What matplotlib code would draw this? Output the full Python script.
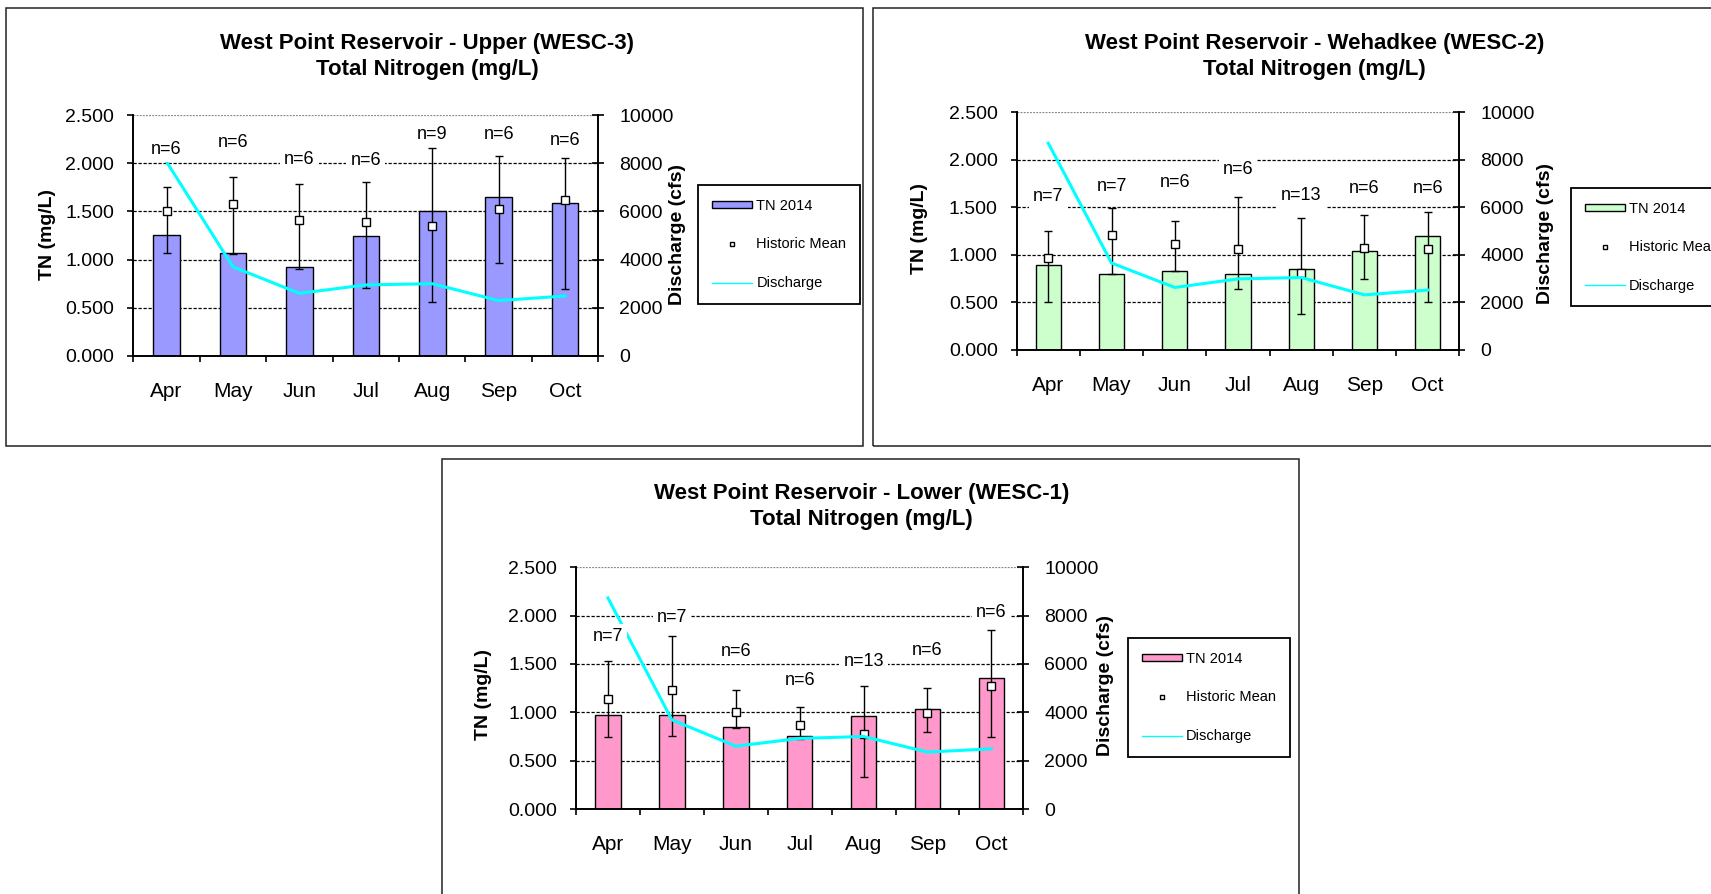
import numpy as np
import matplotlib
matplotlib.use("Agg")
import matplotlib.pyplot as plt
from matplotlib.patches import Rectangle, Patch
from matplotlib.lines import Line2D

plt.rcParams['font.family'] = ['Liberation Sans', 'DejaVu Sans']

# ---------------- data ----------------
months = ['Apr', 'May', 'Jun', 'Jul', 'Aug', 'Sep', 'Oct']

# Upper (WESC-3)
tn_upper = [1.26, 1.07, 0.92, 1.25, 1.50, 1.65, 1.59]
hist_upper = [1.50, 1.58, 1.41, 1.39, 1.35, 1.52, 1.62]
hi_upper = [1.75, 1.86, 1.78, 1.80, 2.16, 2.07, 2.05]
lo_upper = [1.07, 1.06, 0.90, 0.71, 0.56, 0.96, 0.70]
q_upper = [8060, 3700, 2600, 2950, 3000, 2300, 2490]
n_upper = [6, 6, 6, 6, 9, 6, 6]
nlevel_upper = [2.14, 2.21, 2.04, 2.03, 2.30, 2.30, 2.24]

# Wehadkee (WESC-2)
tn_wehad = [0.89, 0.80, 0.83, 0.80, 0.85, 1.04, 1.20]
hist_wehad = [0.97, 1.21, 1.11, 1.06, 0.81, 1.07, 1.06]
hi_wehad = [1.25, 1.49, 1.36, 1.61, 1.39, 1.42, 1.45]
lo_wehad = [0.51, 0.80, 0.83, 0.64, 0.38, 0.75, 0.51]
q_wehad = [8700, 3660, 2630, 2990, 3050, 2320, 2520]
n_wehad = [7, 7, 6, 6, 13, 6, 6]
nlevel_wehad = [1.61, 1.72, 1.76, 1.90, 1.62, 1.70, 1.70]

# Lower (WESC-1)
tn_lower = [0.97, 0.97, 0.85, 0.75, 0.96, 1.03, 1.35]
hist_lower = [1.14, 1.23, 1.00, 0.87, 0.78, 0.99, 1.27]
hi_lower = [1.53, 1.79, 1.23, 1.05, 1.27, 1.25, 1.85]
lo_lower = [0.74, 0.75, 0.84, 0.72, 0.33, 0.80, 0.74]
q_lower = [8730, 3690, 2600, 2920, 3000, 2355, 2490]
n_lower = [7, 7, 6, 6, 13, 6, 6]
nlevel_lower = [1.78, 1.98, 1.63, 1.33, 1.53, 1.64, 2.03]

left_ticks = [0.0, 0.5, 1.0, 1.5, 2.0, 2.5]
right_ticks = [0, 2000, 4000, 6000, 8000, 10000]

# ---------------- layout ----------------
W, H = 1711, 894
fig = plt.figure(figsize=(W / 100, H / 100), dpi=100)
fig.patch.set_facecolor('white')


def fx(x):
    return x / W


def fy(y):
    return 1 - y / H


panels = [
    dict(title='West Point Reservoir - Upper (WESC-3)', tn=tn_upper, hist=hist_upper,
         hi=hi_upper, lo=lo_upper, q=q_upper, n=n_upper, nlev=nlevel_upper,
         color='#9999FF', ax=(133.3, 115, 598.3, 356), frame=(5.5, 8.3, 863, 446),
         tx=427, ty=(43, 70), yl=(47, 234), yr=(678, 234.5), leg=(698.3, 185)),
    dict(title='West Point Reservoir - Wehadkee (WESC-2)', tn=tn_wehad, hist=hist_wehad,
         hi=hi_wehad, lo=lo_wehad, q=q_wehad, n=n_wehad, nlev=nlevel_wehad,
         color='#CCFFCC', ax=(1016.7, 112.3, 1459.3, 350), frame=(872.7, 8.3, 1780, 446),
         tx=1314.6, ty=(43, 69), yl=(919, 229), yr=(1545.8, 233), leg=(1571, 187.7)),
    dict(title='West Point Reservoir - Lower (WESC-1)', tn=tn_lower, hist=hist_lower,
         hi=hi_lower, lo=lo_lower, q=q_lower, n=n_lower, nlev=nlevel_lower,
         color='#FF99CC', ax=(576, 567.3, 1023.3, 809), frame=(441.7, 459.3, 1299, 960),
         tx=861.7, ty=(493, 520), yl=(483, 694), yr=(1106, 685), leg=(1128, 638)),
]

x = np.arange(len(months))

for p in panels:
    l, t, r, b = p['ax']
    ax = fig.add_axes([fx(l), fy(b), (r - l) / W, (b - t) / H])
    ax2 = ax.twinx()

    # frame around the chart
    fl, ft, fr, fb = p['frame']
    fig.add_artist(Rectangle((fx(fl), fy(fb)), (fr - fl) / W, (fb - ft) / H,
                             transform=fig.transFigure, fill=False,
                             edgecolor='#222222', lw=1.1, zorder=0))

    # bars
    ax.bar(x, p['tn'], width=0.4, color=p['color'], edgecolor='black', lw=1.0, zorder=2)
    # historic mean with error bars
    hist = np.array(p['hist'])
    yerr = [hist - np.array(p['lo']), np.array(p['hi']) - hist]
    ax.errorbar(x, hist, yerr=yerr, fmt='s', ms=6.3, mfc='white', mec='black', mew=1.0,
                ecolor='black', elinewidth=1.0, capsize=2.9, capthick=1.0, zorder=3)

    ax.set_xlim(-0.5, 6.5)
    ax.set_ylim(0, 2.5)
    ax.set_yticks(left_ticks)
    ax.set_yticklabels([f'{v:.3f}' for v in left_ticks])
    ax.set_xticks(np.arange(-0.5, 7.0, 1.0))
    ax.set_xticklabels([])
    ax.set_xticks(x, minor=True)
    ax.set_xticklabels(months, minor=True)
    ax.tick_params(axis='x', which='major', direction='out', length=4.3, width=1.2)
    ax.tick_params(axis='x', which='minor', length=0, pad=18.5, labelsize=15)
    ax.tick_params(axis='y', direction='out', length=4, width=1.2, pad=9.7, labelsize=14)

    ax.grid(axis='y', color='black', lw=0.9, linestyle=(0, (2.6, 1.4)), zorder=0.5)
    ax.set_axisbelow(True)
    glines = ax.get_ygridlines()
    glines[-1].set_color('#888888')
    glines[-1].set_linestyle((0, (1.5, 1.0)))

    for s in ['top', 'right']:
        ax.spines[s].set_visible(False)
    ax.spines['left'].set_linewidth(1.4)
    ax.spines['bottom'].set_linewidth(1.4)

    # discharge on secondary axis
    ax2.plot(x, p['q'], color='#00FFFF', lw=2.2, zorder=3)
    ax2.set_ylim(0, 10000)
    ax2.set_yticks(right_ticks)
    ax2.set_yticklabels([str(v) for v in right_ticks])
    ax2.tick_params(axis='y', direction='inout', length=8, width=1.2, pad=11, labelsize=14)
    for s in ['top', 'left', 'bottom']:
        ax2.spines[s].set_visible(False)
    ax2.spines['right'].set_linewidth(1.4)

    # n labels on top of everything
    for xi, nv, lev in zip(x, p['n'], p['nlev']):
        ax2.text(xi, lev, f'n={nv}', transform=ax.transData, ha='center', va='center',
                 fontsize=13, zorder=6,
                 bbox=dict(facecolor='white', edgecolor='none', pad=3))

    # titles and axis labels
    fig.text(fx(p['tx']), fy(p['ty'][0]), p['title'], ha='center', va='center',
             fontsize=16, fontweight='bold')
    fig.text(fx(p['tx']), fy(p['ty'][1]), 'Total Nitrogen (mg/L)', ha='center', va='center',
             fontsize=16, fontweight='bold')
    fig.text(fx(p['yl'][0]), fy(p['yl'][1]), 'TN (mg/L)', rotation=90, ha='center',
             va='center', fontsize=14, fontweight='bold')
    fig.text(fx(p['yr'][0]), fy(p['yr'][1]), 'Discharge (cfs)', rotation=90, ha='center',
             va='center', fontsize=14, fontweight='bold')

    # legend
    handles = [Patch(facecolor=p['color'], edgecolor='black', lw=1.0),
               Line2D([], [], ls='none', marker='s', ms=3.5, mfc='white', mec='black', mew=1.0),
               Line2D([], [], color='#00FFFF', lw=1.0)]
    labels = ['TN 2014', 'Historic Mean', 'Discharge']
    leg = ax2.legend(handles, labels, loc='upper left',
                     bbox_to_anchor=(fx(p['leg'][0]), fy(p['leg'][1])),
                     bbox_transform=fig.transFigure, borderaxespad=0,
                     frameon=True, fancybox=False, framealpha=1, edgecolor='black',
                     fontsize=10.5, handlelength=2.74, handleheight=0.34,
                     handletextpad=0.3, labelspacing=1.68, borderpad=0.95)
    leg.get_frame().set_linewidth(1.3)
    leg.set_zorder(10)

fig.savefig('out.png', dpi=100, facecolor='white')
